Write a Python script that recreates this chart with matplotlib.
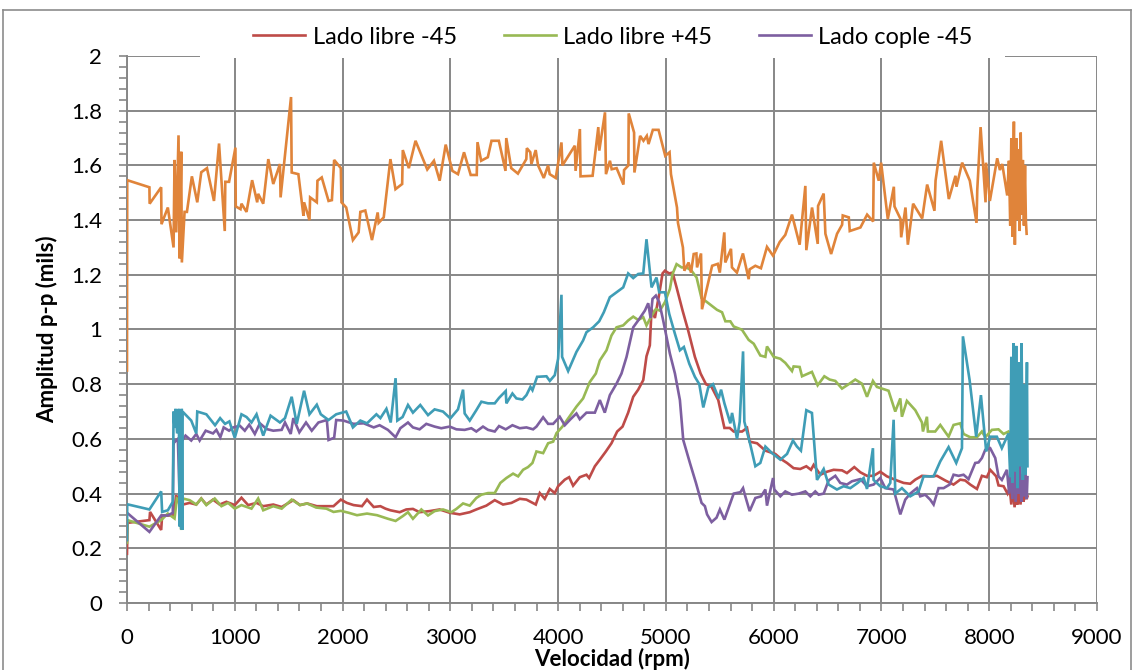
import matplotlib
matplotlib.use('Agg')
import matplotlib.pyplot as plt
from matplotlib.ticker import MultipleLocator, FuncFormatter
from matplotlib.lines import Line2D
from matplotlib.patches import Rectangle

# ── Data ─────────────────────────────────────────────────────
red_x = [0, 5, 208, 214, 317, 326, 432, 457, 488, 519, 581, 643, 689, 736, 798, 860, 922,
         1000, 1062, 1124, 1202, 1264, 1357, 1435, 1543, 1605, 1671, 1761, 1916, 1984, 2040,
         2102, 2180, 2227, 2289, 2351, 2398, 2444, 2530, 2591, 2653, 2715, 2808, 2901, 2994,
         3087, 3180, 3241, 3334, 3412, 3489, 3567, 3644, 3706, 3793, 3830, 3876, 3923, 3969,
         4000, 4062, 4102, 4139, 4201, 4263, 4288, 4341, 4387, 4443, 4495, 4548, 4598, 4650,
         4697, 4743, 4790, 4820, 4851, 4867, 4898, 4938, 4969, 4991, 5031, 5062, 5099, 5155,
         5207, 5269, 5322, 5372, 5424, 5486, 5543, 5592, 5629, 5707, 5753, 5777, 5846, 5923,
         6015, 6077, 6124, 6185, 6247, 6303, 6346, 6371, 6433, 6495, 6556, 6634, 6680, 6748,
         6804, 6866, 6927, 6989, 7051, 7144, 7206, 7267, 7314, 7376, 7453, 7515, 7592, 7669,
         7731, 7777, 7824, 7886, 7932, 7978, 8009, 8065, 8086, 8133, 8170, 8190, 8205, 8220,
         8235, 8250, 8262, 8275, 8290, 8305, 8318, 8332, 8345, 8355]
red_y = [0.18, 0.293, 0.303, 0.333, 0.267, 0.32, 0.32, 0.394, 0.358, 0.36, 0.366, 0.36, 0.382,
         0.36, 0.378, 0.36, 0.37, 0.358, 0.385, 0.358, 0.366, 0.354, 0.36, 0.351, 0.376, 0.358,
         0.364, 0.354, 0.354, 0.378, 0.366, 0.358, 0.354, 0.378, 0.351, 0.354, 0.345, 0.339,
         0.332, 0.342, 0.344, 0.332, 0.336, 0.342, 0.33, 0.324, 0.332, 0.342, 0.356, 0.376, 0.36,
         0.366, 0.381, 0.378, 0.36, 0.402, 0.381, 0.417, 0.402, 0.427, 0.451, 0.46, 0.429, 0.46,
         0.469, 0.457, 0.50, 0.524, 0.554, 0.584, 0.627, 0.645, 0.696, 0.754, 0.78, 0.815, 0.902,
         0.942, 1.075, 1.042, 1.13, 1.205, 1.215, 1.205, 1.208, 1.154, 1.069, 0.996, 0.90, 0.839,
         0.80, 0.79, 0.742, 0.64, 0.64, 0.627, 0.627, 0.64, 0.59, 0.584, 0.557, 0.545, 0.524,
         0.512, 0.493, 0.49, 0.50, 0.487, 0.505, 0.469, 0.48, 0.487, 0.485, 0.475, 0.497, 0.478,
         0.465, 0.465, 0.48, 0.463, 0.448, 0.439, 0.436, 0.451, 0.465, 0.463, 0.465, 0.448,
         0.433, 0.451, 0.448, 0.433, 0.417, 0.465, 0.46, 0.487, 0.463, 0.43, 0.427, 0.40, 0.42,
         0.36, 0.44, 0.35, 0.41, 0.36, 0.43, 0.36, 0.42, 0.37, 0.40, 0.38, 0.39]

green_x = [0, 3, 208, 317, 379, 441, 463, 488, 503, 519, 581, 643, 689, 736, 814, 876, 938,
           1000, 1062, 1155, 1217, 1264, 1357, 1435, 1528, 1605, 1671, 1755, 1850, 1916, 1984,
           2056, 2134, 2227, 2320, 2421, 2492, 2560, 2607, 2653, 2731, 2793, 2854, 2932, 3009,
           3056, 3118, 3180, 3241, 3288, 3350, 3412, 3464, 3520, 3582, 3629, 3675, 3721, 3762,
           3799, 3861, 3907, 3954, 3985, 4040, 4093, 4170, 4232, 4294, 4350, 4387, 4449, 4495,
           4542, 4604, 4650, 4697, 4743, 4790, 4820, 4867, 4907, 4944, 4991, 5037, 5062, 5099,
           5146, 5192, 5238, 5285, 5330, 5382, 5474, 5521, 5552, 5598, 5629, 5706, 5768, 5815,
           5876, 5923, 5938, 6000, 6062, 6108, 6170, 6185, 6241, 6263, 6355, 6408, 6470, 6519,
           6572, 6634, 6696, 6757, 6819, 6866, 6921, 6958, 7005, 7066, 7128, 7175, 7190, 7236,
           7314, 7376, 7385, 7422, 7431, 7499, 7546, 7623, 7669, 7731, 7762, 7824, 7886, 7932,
           7963, 8025, 8086, 8133, 8179, 8230, 8280, 8340]
green_y = [0.22, 0.303, 0.279, 0.303, 0.327, 0.309, 0.382, 0.376, 0.267, 0.382, 0.376, 0.36,
           0.382, 0.358, 0.382, 0.354, 0.366, 0.345, 0.358, 0.345, 0.382, 0.339, 0.354, 0.345,
           0.378, 0.358, 0.364, 0.349, 0.345, 0.333, 0.337, 0.33, 0.321, 0.327, 0.321, 0.308,
           0.30, 0.318, 0.332, 0.308, 0.342, 0.32, 0.336, 0.342, 0.332, 0.344, 0.364, 0.356,
           0.384, 0.396, 0.402, 0.402, 0.439, 0.457, 0.473, 0.463, 0.487, 0.497, 0.512, 0.554,
           0.548, 0.584, 0.59, 0.621, 0.645, 0.675, 0.718, 0.748, 0.808, 0.839, 0.887, 0.924,
           0.978, 1.008, 1.015, 1.033, 1.047, 1.035, 1.045, 1.015, 1.05, 1.075, 1.069, 1.10,
           1.148, 1.203, 1.239, 1.227, 1.227, 1.215, 1.19, 1.115, 1.10, 1.072, 1.063, 1.03, 1.03,
           1.011, 0.999, 0.962, 0.948, 0.905, 0.90, 0.938, 0.90, 0.893, 0.878, 0.848, 0.865,
           0.863, 0.829, 0.845, 0.796, 0.829, 0.817, 0.812, 0.784, 0.80, 0.817, 0.802, 0.754,
           0.812, 0.79, 0.784, 0.776, 0.70, 0.748, 0.681, 0.739, 0.705, 0.66, 0.627, 0.681,
           0.627, 0.627, 0.651, 0.608, 0.651, 0.657, 0.618, 0.606, 0.606, 0.627, 0.606, 0.633,
           0.635, 0.618, 0.627, 0.60, 0.62, 0.60]

purple_x = [0, 208, 317, 379, 425, 432, 441, 472, 490, 500, 505, 543, 596, 643, 674, 730, 798,
            829, 866, 897, 947, 985, 1047, 1093, 1134, 1186, 1233, 1295, 1357, 1435, 1466, 1519,
            1543, 1599, 1661, 1714, 1776, 1854, 1870, 1922, 1941, 2009, 2102, 2196, 2289, 2344,
            2421, 2492, 2536, 2607, 2653, 2715, 2777, 2854, 2916, 2994, 3056, 3133, 3195, 3241,
            3303, 3350, 3412, 3452, 3514, 3576, 3644, 3706, 3768, 3799, 3861, 3907, 3954, 4015,
            4062, 4115, 4170, 4201, 4263, 4341, 4387, 4433, 4480, 4542, 4588, 4635, 4659, 4697,
            4743, 4805, 4836, 4858, 4876, 4907, 4938, 4975, 5037, 5084, 5130, 5161, 5223, 5279,
            5331, 5362, 5382, 5424, 5470, 5501, 5543, 5604, 5629, 5691, 5716, 5737, 5777, 5830,
            5883, 5923, 5938, 5994, 6006, 6062, 6108, 6170, 6232, 6294, 6340, 6386, 6417, 6464,
            6510, 6572, 6618, 6680, 6726, 6804, 6866, 6927, 6989, 7036, 7113, 7175, 7221, 7267,
            7329, 7360, 7406, 7452, 7484, 7530, 7577, 7632, 7669, 7716, 7762, 7808, 7870, 7901,
            7932, 7963, 8009, 8056, 8086, 8117, 8164, 8185, 8200, 8215, 8230, 8245, 8260, 8272,
            8285, 8298, 8310, 8322, 8335, 8348, 8355]
purple_y = [0.33, 0.26, 0.32, 0.32, 0.33, 0.60, 0.588, 0.60, 0.36, 0.30, 0.59, 0.612, 0.594,
            0.618, 0.594, 0.63, 0.62, 0.633, 0.606, 0.642, 0.63, 0.642, 0.648, 0.63, 0.652,
            0.618, 0.657, 0.636, 0.63, 0.633, 0.66, 0.618, 0.676, 0.624, 0.66, 0.63, 0.66, 0.669,
            0.596, 0.604, 0.669, 0.667, 0.655, 0.657, 0.642, 0.65, 0.633, 0.606, 0.639, 0.66,
            0.642, 0.635, 0.655, 0.645, 0.639, 0.645, 0.635, 0.633, 0.639, 0.627, 0.645, 0.633,
            0.627, 0.647, 0.635, 0.65, 0.639, 0.642, 0.635, 0.645, 0.679, 0.655, 0.655, 0.681,
            0.65, 0.672, 0.693, 0.672, 0.696, 0.696, 0.742, 0.696, 0.76, 0.802, 0.839, 0.90,
            0.942, 1.008, 1.033, 1.069, 1.096, 1.042, 1.112, 1.124, 1.10, 1.033, 0.912, 0.839,
            0.742, 0.596, 0.512, 0.439, 0.366, 0.354, 0.324, 0.296, 0.312, 0.342, 0.305, 0.372,
            0.40, 0.405, 0.42, 0.39, 0.336, 0.384, 0.39, 0.415, 0.356, 0.457, 0.415, 0.39, 0.408,
            0.396, 0.40, 0.408, 0.39, 0.408, 0.396, 0.40, 0.448, 0.465, 0.439, 0.433, 0.445,
            0.453, 0.427, 0.433, 0.457, 0.42, 0.415, 0.324, 0.378, 0.40, 0.42, 0.39, 0.396, 0.378,
            0.36, 0.42, 0.42, 0.433, 0.469, 0.465, 0.469, 0.453, 0.512, 0.514, 0.53, 0.56, 0.566,
            0.53, 0.463, 0.45, 0.487, 0.40, 0.50, 0.38, 0.52, 0.37, 0.49, 0.40, 0.50, 0.37, 0.47,
            0.39, 0.48, 0.38, 0.46]

orange_x = [0, 2, 208, 210, 317, 320, 379, 432, 441, 457, 478, 488, 503, 509, 534, 556, 602,
            652, 689, 742, 807, 854, 907, 912, 947, 1006, 1009, 1053, 1062, 1109, 1161, 1208,
            1217, 1264, 1311, 1357, 1419, 1425, 1522, 1528, 1590, 1637, 1643, 1693, 1699, 1761,
            1767, 1807, 1870, 1901, 1922, 1984, 1990, 2034, 2096, 2149, 2165, 2211, 2273, 2326,
            2335, 2382, 2444, 2491, 2553, 2559, 2615, 2677, 2786, 2848, 2901, 2957, 3019, 3071,
            3127, 3189, 3245, 3252, 3286, 3348, 3382, 3450, 3512, 3519, 3565, 3627, 3705, 3710,
            3742, 3752, 3792, 3814, 3867, 3907, 3922, 3978, 4031, 4040, 4155, 4162, 4202, 4208,
            4320, 4373, 4382, 4435, 4444, 4481, 4497, 4543, 4606, 4612, 4652, 4655, 4705, 4708,
            4761, 4792, 4823, 4839, 4879, 4932, 4994, 5034, 5047, 5103, 5112, 5158, 5171, 5211,
            5233, 5258, 5283, 5289, 5326, 5335, 5429, 5481, 5500, 5542, 5551, 5604, 5613, 5659,
            5715, 5768, 5777, 5830, 5882, 5938, 5994, 6056, 6108, 6170, 6241, 6294, 6303, 6356,
            6409, 6412, 6464, 6480, 6533, 6588, 6635, 6641, 6697, 6706, 6805, 6867, 6923, 6929,
            6975, 6997, 7059, 7115, 7121, 7177, 7183, 7223, 7245, 7294, 7378, 7424, 7492, 7502,
            7554, 7625, 7687, 7696, 7749, 7820, 7882, 7889, 7920, 7966, 7970, 8006, 8074, 8099,
            8121, 8167, 8183, 8195, 8205, 8215, 8229, 8238, 8250, 8260, 8272, 8282, 8292, 8302,
            8312, 8322, 8332, 8340, 8347]
orange_y = [0.85, 1.546, 1.52, 1.46, 1.52, 1.385, 1.446, 1.30, 1.62, 1.355, 1.71, 1.26, 1.65,
            1.245, 1.43, 1.43, 1.56, 1.465, 1.575, 1.59, 1.47, 1.68, 1.36, 1.54, 1.54, 1.665,
            1.45, 1.44, 1.46, 1.43, 1.546, 1.465, 1.496, 1.46, 1.623, 1.532, 1.605, 1.483, 1.85,
            1.574, 1.568, 1.416, 1.465, 1.40, 1.483, 1.465, 1.544, 1.556, 1.47, 1.473, 1.62,
            1.59, 1.465, 1.446, 1.327, 1.355, 1.43, 1.435, 1.327, 1.428, 1.39, 1.41, 1.623,
            1.513, 1.532, 1.656, 1.59, 1.69, 1.585, 1.617, 1.544, 1.676, 1.58, 1.568, 1.648,
            1.565, 1.565, 1.685, 1.617, 1.63, 1.69, 1.69, 1.58, 1.70, 1.59, 1.57, 1.623, 1.663,
            1.648, 1.605, 1.656, 1.60, 1.554, 1.60, 1.568, 1.554, 1.684, 1.60, 1.672, 1.58, 1.733,
            1.56, 1.562, 1.74, 1.654, 1.794, 1.568, 1.617, 1.586, 1.59, 1.53, 1.583, 1.60, 1.79,
            1.72, 1.574, 1.708, 1.69, 1.708, 1.678, 1.73, 1.73, 1.635, 1.648, 1.568, 1.446, 1.39,
            1.30, 1.215, 1.245, 1.208, 1.276, 1.278, 1.227, 1.278, 1.074, 1.233, 1.24, 1.208,
            1.355, 1.245, 1.295, 1.227, 1.208, 1.278, 1.184, 1.22, 1.233, 1.224, 1.302, 1.27,
            1.32, 1.346, 1.42, 1.31, 1.525, 1.29, 1.446, 1.313, 1.452, 1.497, 1.35, 1.276, 1.35,
            1.383, 1.417, 1.41, 1.36, 1.373, 1.42, 1.395, 1.61, 1.544, 1.61, 1.404, 1.522, 1.45,
            1.404, 1.337, 1.446, 1.31, 1.46, 1.406, 1.53, 1.434, 1.544, 1.69, 1.477, 1.562,
            1.522, 1.61, 1.544, 1.39, 1.51, 1.74, 1.465, 1.61, 1.47, 1.626, 1.583, 1.605, 1.49,
            1.617, 1.38, 1.70, 1.34, 1.76, 1.31, 1.70, 1.40, 1.66, 1.36, 1.72, 1.42, 1.62, 1.38,
            1.60, 1.40, 1.35]

teal_x = [0, 2, 208, 317, 326, 379, 425, 432, 441, 450, 465, 481, 488, 495, 503, 508, 512,
          515, 596, 643, 652, 736, 817, 864, 910, 950, 1000, 1062, 1109, 1155, 1202, 1264, 1332,
          1419, 1466, 1528, 1575, 1643, 1693, 1761, 1798, 1870, 1941, 2034, 2096, 2165, 2227,
          2314, 2351, 2407, 2447, 2492, 2508, 2557, 2607, 2653, 2721, 2793, 2854, 2932, 3000,
          3071, 3118, 3133, 3180, 3241, 3288, 3350, 3412, 3452, 3514, 3520, 3576, 3613, 3669,
          3706, 3743, 3762, 3805, 3892, 3923, 3969, 4000, 4031, 4037, 4093, 4170, 4232, 4263,
          4325, 4381, 4424, 4480, 4542, 4604, 4650, 4697, 4743, 4790, 4820, 4867, 4913, 4938,
          4991, 5031, 5084, 5130, 5167, 5217, 5269, 5310, 5347, 5393, 5437, 5490, 5512, 5543,
          5598, 5614, 5660, 5685, 5716, 5728, 5784, 5830, 5876, 5923, 5985, 6062, 6124, 6179,
          6216, 6253, 6303, 6355, 6402, 6464, 6510, 6587, 6649, 6711, 6779, 6835, 6866, 6921,
          6927, 6989, 7051, 7082, 7113, 7128, 7190, 7267, 7345, 7391, 7484, 7546, 7623, 7694,
          7747, 7756, 7818, 7879, 7923, 7972, 8009, 8071, 8117, 8179, 8195, 8205, 8215, 8225,
          8238, 8250, 8262, 8275, 8288, 8300, 8312, 8325, 8338, 8350, 8355]
teal_y = [0.23, 0.361, 0.342, 0.408, 0.333, 0.339, 0.37, 0.70, 0.64, 0.71, 0.62, 0.71, 0.28,
          0.70, 0.27, 0.71, 0.267, 0.70, 0.667, 0.62, 0.70, 0.69, 0.65, 0.676, 0.655, 0.664,
          0.604, 0.69, 0.68, 0.66, 0.69, 0.612, 0.685, 0.66, 0.676, 0.754, 0.655, 0.776, 0.69,
          0.725, 0.69, 0.669, 0.69, 0.70, 0.642, 0.667, 0.657, 0.69, 0.676, 0.71, 0.66, 0.822,
          0.667, 0.68, 0.724, 0.696, 0.724, 0.687, 0.708, 0.70, 0.675, 0.708, 0.78, 0.693,
          0.667, 0.705, 0.736, 0.73, 0.73, 0.75, 0.775, 0.73, 0.766, 0.748, 0.744, 0.76, 0.79,
          0.778, 0.827, 0.829, 0.812, 0.833, 0.893, 1.127, 0.90, 0.848, 0.918, 0.96, 0.99,
          1.008, 1.03, 1.063, 1.118, 1.136, 1.154, 1.205, 1.188, 1.203, 1.205, 1.33, 1.154,
          1.19, 1.136, 1.136, 1.057, 0.984, 0.924, 0.936, 0.875, 0.827, 0.80, 0.715, 0.788,
          0.80, 0.748, 0.78, 0.73, 0.657, 0.695, 0.60, 0.663, 0.92, 0.663, 0.578, 0.50, 0.512,
          0.572, 0.548, 0.524, 0.545, 0.594, 0.572, 0.557, 0.705, 0.695, 0.45, 0.49, 0.433,
          0.415, 0.427, 0.42, 0.439, 0.457, 0.417, 0.566, 0.45, 0.427, 0.42, 0.439, 0.67, 0.40,
          0.42, 0.39, 0.408, 0.463, 0.463, 0.518, 0.57, 0.512, 0.566, 0.975, 0.815, 0.608, 0.76,
          0.554, 0.608, 0.608, 0.566, 0.62, 0.46, 0.90, 0.44, 0.95, 0.48, 0.94, 0.42, 0.88,
          0.50, 0.95, 0.45, 0.80, 0.47, 0.88, 0.50]

labels = ['Lado libre -45', 'Lado libre +45', 'Lado cople -45']
colors = ['#BE4B48', '#98B954', '#7D5FA0', '#E0843A', '#3F9DB6']

# ── Style ────────────────────────────────────────────────────
plt.rcParams['font.family'] = ['Lato', 'DejaVu Sans']
GRID = '#878787'

fig = plt.figure(figsize=(11.34, 6.70), dpi=100)
ax = fig.add_axes([127 / 1134, 1 - 603 / 670, 970 / 1134, 547 / 670])

series = [(red_x, red_y), (green_x, green_y), (purple_x, purple_y),
          (orange_x, orange_y), (teal_x, teal_y)]
handles = []
for i, (xs, ys) in enumerate(series):
    ln, = ax.plot(xs, ys, color=colors[i], lw=1.9, solid_joinstyle='miter', zorder=3 + i)
    handles.append(ln)

ax.set_xlim(0, 9000)
ax.set_ylim(0, 2)
ax.xaxis.set_major_locator(MultipleLocator(1000))
ax.xaxis.set_minor_locator(MultipleLocator(200))
ax.yaxis.set_major_locator(MultipleLocator(0.2))
ax.yaxis.set_minor_locator(MultipleLocator(0.04))
ax.yaxis.set_major_formatter(FuncFormatter(lambda v, _: f'{v:g}'))
ax.grid(True, which='major', color=GRID, lw=1.4)
ax.set_axisbelow(True)

for side in ['top', 'right']:
    ax.spines[side].set_visible(False)
for side in ['left', 'bottom']:
    ax.spines[side].set_color(GRID)
    ax.spines[side].set_linewidth(1.4)

ax.tick_params(which='both', direction='out', color=GRID, width=1.2, length=6)
ax.tick_params(axis='y', which='major', labelsize=16, pad=12)
ax.tick_params(axis='x', which='major', labelsize=16, pad=12)

ax.set_ylabel('Amplitud p-p (mils)', fontsize=16, fontweight='bold', labelpad=9)
ax.set_xlabel('Velocidad (rpm)', fontsize=16, fontweight='bold', labelpad=0)

# outer chart border (cut at the bottom)
top = 1 - 10 / 670
fig.add_artist(Line2D([3 / 1134, 1131 / 1134], [top, top], color='#8c8c8c', lw=1.2))
fig.add_artist(Line2D([3 / 1134, 3 / 1134], [0, top], color='#8c8c8c', lw=1.2))
fig.add_artist(Line2D([1131 / 1134, 1131 / 1134], [0, top], color='#8c8c8c', lw=1.2))

# legend box hides the top gridline
fig.add_artist(Rectangle((200 / 1134, 1 - 58 / 670), 805 / 1134, 42 / 670,
                         transform=fig.transFigure, facecolor='white',
                         edgecolor='none', zorder=2))
fig.legend(handles[:3], labels, loc='center', bbox_to_anchor=(613 / 1134, 1 - 37 / 670),
           ncol=3, frameon=False, fontsize=17, handlelength=2.2, handletextpad=0.3,
           columnspacing=2.0)

plt.savefig('out.png', dpi=100)
